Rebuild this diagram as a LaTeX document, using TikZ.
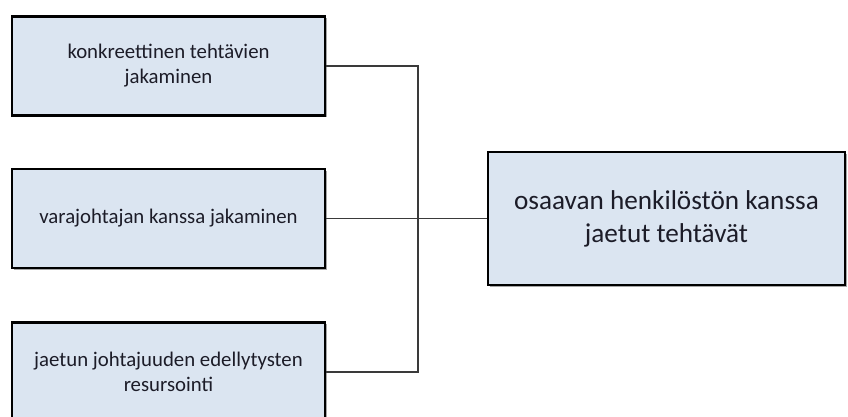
\documentclass[tikz,border=0pt]{standalone}
\usepackage{fontspec}
\setmainfont{Carlito}
\usetikzlibrary{shadows}
\definecolor{boxfill}{HTML}{DBE5F1}
\definecolor{boxtext}{HTML}{1C1C28}
\definecolor{linecol}{HTML}{3A3A3A}
\tikzset{
  item/.style={draw=black, line width=2.4pt, fill=boxfill, text=boxtext,
    minimum width=313pt, minimum height=99pt, align=center,
    font=\fontsize{20.8}{25}\selectfont,
    drop shadow={shadow xshift=1.5pt, shadow yshift=-1.5pt, fill=black, opacity=0.35}},
  goal/.style={item, minimum width=357pt, minimum height=133pt,
    font=\fontsize{27.2}{33}\selectfont},
  conn/.style={draw=linecol, line width=1.3pt}
}
\begin{document}
\begin{tikzpicture}[x=1pt, y=-1pt]
  \useasboundingbox (0,0) rectangle (848,417);
  \clip (0,0) rectangle (848,417);
  \fill[white] (0,0) rectangle (848,417);
  % junction points of the bracket connector
  \coordinate (jt) at (418,66);
  \coordinate (jb) at (418,372);
  \coordinate (jm) at (418,218.5);
  \node[item] (b1) at (168.5,66) {konkreettinen tehtävien\\jakaminen};
  \node[item] (b2) at (168.5,218.5) {varajohtajan kanssa jakaminen};
  \node[item] (b3) at (168.5,372) {jaetun johtajuuden edellytysten\\resursointi};
  \node[goal] (g) at (666.5,218.5) {osaavan henkilöstön kanssa\\jaetut tehtävät};
  \draw[conn] (b1.east) -- (jt) -- (jb) -- (b3.east);
  \draw[conn] (b2.east) -- (jm) -- (g.west);
\end{tikzpicture}
\end{document}
